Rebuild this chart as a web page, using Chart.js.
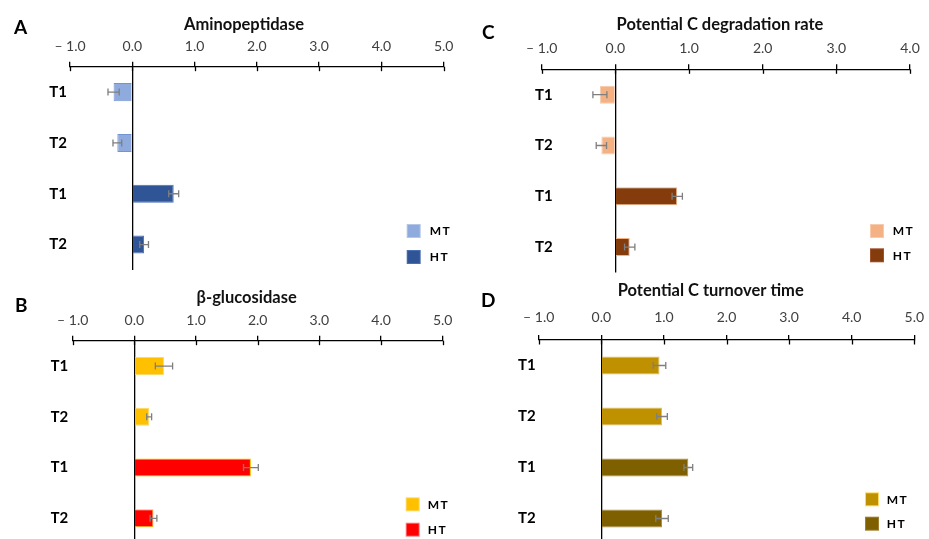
<!DOCTYPE html>
<html><head><meta charset="utf-8">
<script src="https://cdn.jsdelivr.net/npm/chart.js@4.4.1/dist/chart.umd.min.js"></script>
<style>
html,body{margin:0;padding:0;background:#fff;}
body{width:929px;height:539px;overflow:hidden;position:relative;font-family:Lato,sans-serif;}
canvas{position:absolute;}
.lt{position:absolute;font-family:Lato,sans-serif;font-weight:bold;font-size:19px;line-height:19px;color:#000;}
</style></head>
<body>
<canvas id="cA" width="466" height="286" style="left:0px;top:0px"></canvas>
<canvas id="cB" width="465" height="300" style="left:0px;top:260px"></canvas>
<canvas id="cC" width="462" height="289" style="left:470px;top:0px"></canvas>
<canvas id="cD" width="467" height="300" style="left:470px;top:260px"></canvas>
<div class="lt" style="left:14px;top:17px">A</div>
<div class="lt" style="left:15px;top:295px">B</div>
<div class="lt" style="left:482px;top:22px">C</div>
<div class="lt" style="left:481px;top:290px">D</div>
<script>
// ---------- data ----------
const categories = ['T1', 'T2', 'T1', 'T2'];
const seriesNames = ['MT', 'HT'];
const tickLabels5 = ['\u2013 1.0', '0.0', '1.0', '2.0', '3.0', '4.0', '5.0'];
const tickLabels4 = ['\u2013 1.0', '0.0', '1.0', '2.0', '3.0', '4.0'];

const aminoMT = [-0.30, -0.24, null, null];
const aminoMTErr = [0.09, 0.07, null, null];
const aminoHT = [null, null, 0.665, 0.19];
const aminoHTErr = [null, null, 0.08, 0.07];

const glucoMT = [0.48, 0.24, null, null];
const glucoMTErr = [0.14, 0.04, null, null];
const glucoHT = [null, null, 1.89, 0.31];
const glucoHTErr = [null, null, 0.12, 0.055];

const degrMT = [-0.21, -0.19, null, null];
const degrMTErr = [0.095, 0.07, null, null];
const degrHT = [null, null, 0.84, 0.195];
const degrHTErr = [null, null, 0.07, 0.07];

const turnMT = [0.93, 0.97, null, null];
const turnMTErr = [0.10, 0.085, null, null];
const turnHT = [null, null, 1.39, 0.97];
const turnHTErr = [null, null, 0.07, 0.10];

// ---------- plugins ----------
const errorBarPlugin = {
  id: 'errorBars',
  afterDatasetsDraw(chart) {
    const ctx = chart.ctx, xs = chart.scales.x, ys = chart.scales.y;
    ctx.save();
    ctx.strokeStyle = '#7f7f7f';
    ctx.lineWidth = 1.3;
    chart.data.datasets.forEach(ds => {
      ds.data.forEach((v, i) => {
        if (v === null || !ds.errors || ds.errors[i] == null) return;
        const e = ds.errors[i];
        const y = ys.getPixelForValue(i);
        const x1 = xs.getPixelForValue(v - e), x2 = xs.getPixelForValue(v + e);
        ctx.beginPath();
        ctx.moveTo(x1, y); ctx.lineTo(x2, y);
        ctx.moveTo(x1, y - 3.5); ctx.lineTo(x1, y + 3.5);
        ctx.moveTo(x2, y - 3.5); ctx.lineTo(x2, y + 3.5);
        ctx.stroke();
      });
    });
    ctx.restore();
  }
};

const tickExtendPlugin = {
  id: 'tickExtend',
  afterDraw(chart) {
    const ctx = chart.ctx, xs = chart.scales.x;
    const y0 = xs.bottom;
    ctx.save();
    ctx.strokeStyle = '#000';
    ctx.lineWidth = 1.3;
    xs.ticks.forEach(t => {
      const x = Math.round(xs.getPixelForValue(t.value)) + 0.5;
      ctx.beginPath(); ctx.moveTo(x, y0); ctx.lineTo(x, y0 + 4.5); ctx.stroke();
    });
    ctx.restore();
  }
};

const cornerLegendPlugin = {
  id: 'cornerLegend',
  afterDraw(chart, args, opts) {
    const ctx = chart.ctx, a = chart.chartArea;
    ctx.save();
    ctx.font = 'bold 12px Lato';
    ctx.textBaseline = 'middle';
    ctx.textAlign = 'left';
    try { ctx.letterSpacing = '1.5px'; } catch (e) {}
    chart.data.datasets.forEach((ds, k) => {
      const x = a.right + opts.dx;
      const y = a.bottom + opts.dy + k * opts.step;
      ctx.fillStyle = ds.legendBorder || ds.borderColor;
      ctx.fillRect(x, y, 14, 14);
      ctx.fillStyle = ds.backgroundColor;
      ctx.fillRect(x + 1, y + 1, 12, 12);
      ctx.fillStyle = '#000';
      ctx.fillText(ds.label, x + opts.textDx, y + 7.5);
    });
    ctx.restore();
  }
};

Chart.defaults.font.family = 'Lato';

function makeChart(id, cfg) {
  const ticks = cfg.ticks;
  new Chart(document.getElementById(id), {
    type: 'bar',
    data: {
      labels: categories,
      datasets: [
        { label: seriesNames[0], data: cfg.mt, errors: cfg.mtErr, backgroundColor: cfg.colors[0], borderColor: cfg.borders[0], legendBorder: cfg.legendBorders[0], borderWidth: 1, grouped: false, barPercentage: 0.355, categoryPercentage: 1 },
        { label: seriesNames[1], data: cfg.ht, errors: cfg.htErr, backgroundColor: cfg.colors[1], borderColor: cfg.borders[1], legendBorder: cfg.legendBorders[1], borderWidth: 1, grouped: false, barPercentage: 0.355, categoryPercentage: 1 }
      ]
    },
    options: {
      indexAxis: 'y',
      responsive: false,
      animation: false,
      devicePixelRatio: 1,
      layout: { padding: cfg.pad },
      plugins: {
        legend: { display: false },
        tooltip: { enabled: false },
        title: {
          display: true, text: cfg.title, color: '#111',
          font: { size: 16.5, weight: 'bold', family: 'Lato' },
          padding: { top: 0, bottom: cfg.titlePadB }
        },
        cornerLegend: cfg.legend
      },
      scales: {
        x: {
          position: 'top', min: -1, max: ticks.length - 2,
          ticks: { stepSize: 1, autoSkip: false, maxRotation: 0, color: '#404040', font: { size: 14 }, padding: cfg.xPad,
                   callback: (v, i) => ticks[i] },
          grid: {
            drawOnChartArea: true, drawTicks: true, tickLength: 5, lineWidth: 1.3,
            color: c => (c.tick && c.tick.value === 0) ? '#000' : 'rgba(0,0,0,0)',
            tickColor: '#000'
          },
          border: { display: true, color: '#000', width: 1.3 },
          afterFit: s => { s.height = cfg.xH; }
        },
        y: {
          ticks: { color: '#000', font: { size: 15, weight: 'bold' }, padding: cfg.yPad, mirror: !!cfg.yMirror },
          grid: { display: false, drawTicks: false, tickLength: 0 },
          border: { display: false },
          afterFit: s => { s.width = cfg.yW; }
        }
      }
    },
    plugins: [errorBarPlugin, tickExtendPlugin, cornerLegendPlugin]
  });
}

makeChart('cA', {
  title: 'Aminopeptidase', ticks: tickLabels5,
  mt: aminoMT, mtErr: aminoMTErr, ht: aminoHT, htErr: aminoHTErr,
  colors: ['#8FAADC', '#2F5597'], borders: ['#7393D3', '#4A6FB5'], legendBorders: ['#B4C7E7', '#4A6FB5'],
  pad: { left: 44.3, right: 22.3, top: 15.1, bottom: 16 }, titlePadB: 3.8, xH: 28, xPad: 6.5, yW: 25.7, yPad: 3,
  legend: { dx: -37, dy: -46, step: 26, textDx: 23 }
});
makeChart('cB', {
  title: '\u03B2-glucosidase', ticks: tickLabels5,
  mt: glucoMT, mtErr: glucoMTErr, ht: glucoHT, htErr: glucoHTErr,
  colors: ['#FFC000', '#FF0000'], borders: ['#FFD966', '#FFC000'], legendBorders: ['#FFD966', '#FF7C80'],
  pad: { left: 50.7, right: 22.3, top: 28.1, bottom: 16.3 }, titlePadB: 4.8, xH: 28, xPad: 6.5, yW: 22, yPad: 4.4,
  legend: { dx: -37, dy: -46.4, step: 25.4, textDx: 22 }
});
makeChart('cC', {
  title: 'Potential C degradation rate', ticks: tickLabels4,
  mt: degrMT, mtErr: degrMTErr, ht: degrHT, htErr: degrHTErr,
  colors: ['#F4B183', '#843C0C'], borders: ['#F8CBAD', '#F4B183'], legendBorders: ['#F8CBAD', '#A0522D'],
  pad: { left: 60, right: 22, top: 15.1, bottom: 16.5 }, titlePadB: 6.4, xH: 28, xPad: 7, yW: 11.7, yPad: -6.7, yMirror: true,
  legend: { dx: -40, dy: -48.5, step: 24.3, textDx: 22.7 }
});
makeChart('cD', {
  title: 'Potential C turnover time', ticks: tickLabels5,
  mt: turnMT, mtErr: turnMTErr, ht: turnHT, htErr: turnHTErr,
  colors: ['#BF9000', '#7F6000'], borders: ['#E0C060', '#B09040'], legendBorders: ['#FFD966', '#A08030'],
  pad: { left: 37.1, right: 22.7, top: 21.1, bottom: 16 }, titlePadB: 11.1, xH: 28, xPad: 9, yW: 31.6, yPad: 3,
  legend: { dx: -49.3, dy: -51.7, step: 24.4, textDx: 21.7 }
});
</script>
</body></html>
